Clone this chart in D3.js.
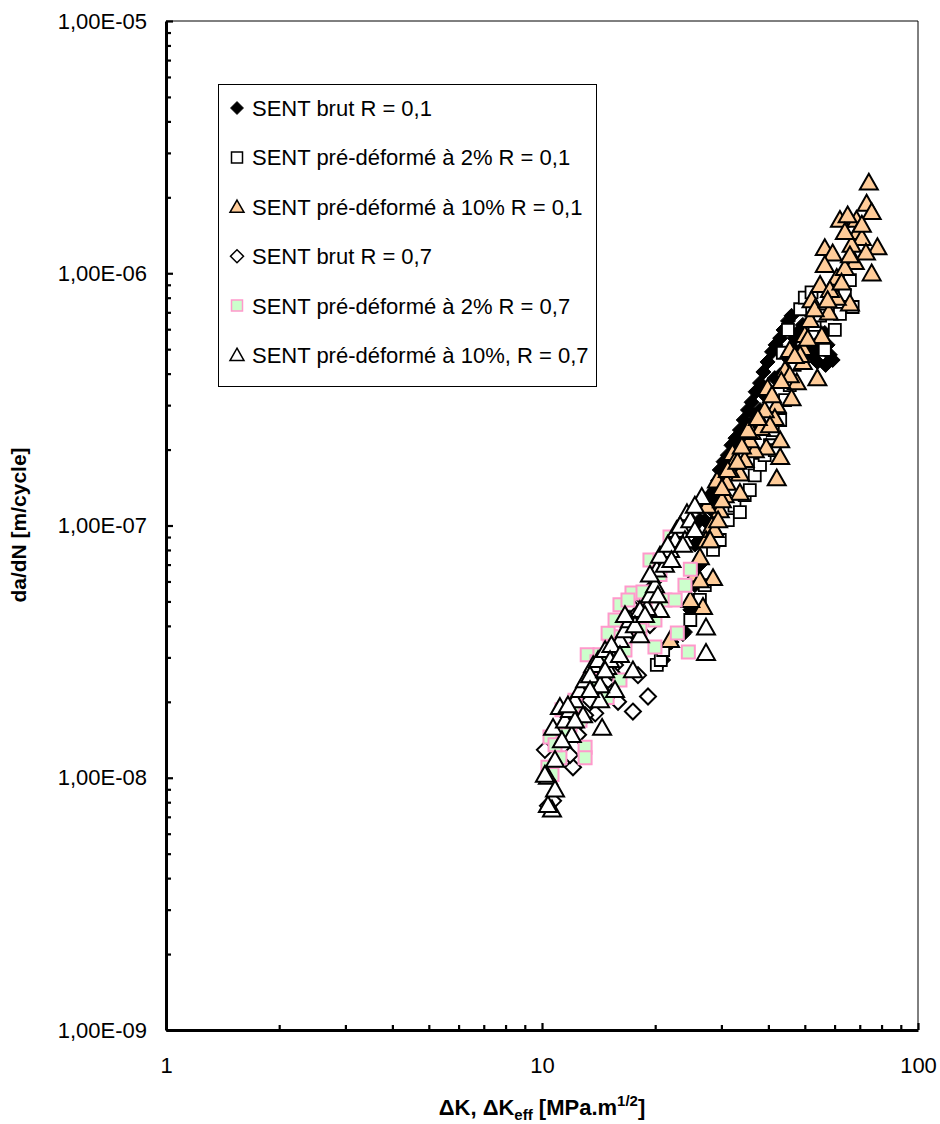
<!DOCTYPE html>
<html><head><meta charset="utf-8">
<script src="https://cdn.jsdelivr.net/npm/d3@7"></script>
<style>
html,body{margin:0;padding:0;background:#fff;}
svg{display:block;font-family:Arial,"Liberation Sans",sans-serif;}
</style></head>
<body>
<svg id="chart" width="940" height="1124"></svg>
<script>
// ---- data: [ΔK (MPa.m^1/2), da/dN (m/cycle)] ----
const brutR01 = [[21.2,3.27e-8],[22.1,3.45e-8],[23.7,3.71e-8],[24.8,4.63e-8],[25.5,5.8e-8],[26.3,7.0e-8],[26.3,8.76e-8],[27.1,1.05e-7],[27.6,1.2e-7],[28.3,1.28e-7],[28.8,1.38e-7],[29.4,1.51e-7],[29.7,1.66e-7],[30.4,1.79e-7],[31.2,1.9e-7],[31.9,2.08e-7],[32.7,2.22e-7],[33.6,2.39e-7],[34.4,2.62e-7],[35.3,2.87e-7],[36.1,3.08e-7],[37.0,3.39e-7],[38.0,3.67e-7],[38.8,4.06e-7],[39.8,4.45e-7],[40.9,4.88e-7],[41.8,5.2e-7],[43.0,5.53e-7],[43.9,5.96e-7],[45.1,6.47e-7],[46.1,6.78e-7],[48.6,5.96e-7],[50.0,5.43e-7],[51.6,5.2e-7],[53.1,4.97e-7],[54.9,5.43e-7],[56.5,5.8e-7],[57.5,5.2e-7],[58.3,4.75e-7],[59.3,4.53e-7],[56.8,4.33e-7],[54.0,4.45e-7],[52.1,4.75e-7],[47.0,4.97e-7],[45.6,4.53e-7],[43.0,3.95e-7],[40.4,3.29e-7],[38.0,2.87e-7],[35.7,2.5e-7],[33.6,2.08e-7],[31.6,1.74e-7],[30.1,1.51e-7],[28.3,1.15e-7],[21.0,2.93e-8],[24.0,3.78e-8],[30.6,1.66e-7],[32.5,1.96e-7],[34.6,2.33e-7],[36.8,2.74e-7],[39.1,3.29e-7],[41.6,3.84e-7],[44.3,4.75e-7],[47.0,5.53e-7],[49.4,6.24e-7],[28.0,1.32e-7],[26.3,1.05e-7],[25.5,8.4e-8]];
const pre2R01 = [[20.2,2.8e-8],[20.7,2.93e-8],[21.0,3.21e-8],[24.8,4.22e-8],[26.3,5.07e-8],[27.1,5.8e-8],[28.5,8.0e-8],[29.7,8.76e-8],[31.2,1.05e-7],[32.5,1.2e-7],[33.6,1.13e-7],[34.6,1.32e-7],[35.7,1.38e-7],[36.8,1.58e-7],[38.0,1.74e-7],[39.1,1.9e-7],[40.4,2.08e-7],[41.1,2.39e-7],[41.6,1.99e-7],[43.0,2.62e-7],[43.7,4.84e-7],[44.3,3.14e-7],[45.1,5.96e-7],[45.6,3.6e-7],[47.0,4.33e-7],[48.6,7.2e-7],[50.0,8.0e-7],[52.1,8.4e-7],[53.1,6.24e-7],[54.9,6.8e-7],[58.3,7.83e-7],[62.0,6.9e-7],[63.9,8.2e-7],[65.9,9.4e-7],[67.0,7.35e-7],[60.1,5.96e-7],[56.5,4.97e-7]];
const pre10R01 = [[74.0,2.29e-6],[73.0,1.89e-6],[62.0,1.63e-6],[68.6,1.63e-6],[69.1,1.46e-6],[78.0,1.27e-6],[56.5,1.26e-6],[59.3,1.2e-6],[67.9,1.11e-6],[56.5,1.08e-6],[75.3,1.0e-6],[60.8,9.6e-7],[65.9,7.6e-7],[60.8,8.0e-7],[57.9,7.0e-7],[50.0,5.7e-7],[55.5,5.65e-7],[49.4,5.06e-7],[49.4,4.45e-7],[54.0,3.84e-7],[46.1,3.2e-7],[42.1,3.0e-7],[39.8,3.51e-7],[41.6,2.67e-7],[43.0,2.18e-7],[39.5,2.04e-7],[36.8,1.99e-7],[43.0,1.87e-7],[42.1,1.54e-7],[33.6,1.61e-7],[32.1,1.94e-7],[31.0,1.48e-7],[29.2,1.51e-7],[33.6,1.35e-7],[47.6,3.7e-7],[65.0,1.7e-6],[70.9,1.38e-6],[72.7,1.21e-6],[63.9,1.05e-6],[54.9,9.0e-7],[52.1,7.83e-7],[45.6,4.97e-7],[44.3,4.14e-7],[38.0,2.62e-7],[35.7,2.18e-7],[34.6,1.82e-7],[30.6,1.32e-7],[29.7,1.15e-7],[28.3,1.0e-7],[27.3,8.76e-8],[26.3,7.5e-8],[25.5,6.4e-8],[26.8,4.76e-8],[28.5,6.2e-8],[21.9,3.52e-8],[24.8,5.07e-8],[27.5,1.2e-7],[31.6,1.66e-7],[39.1,2.87e-7],[51.6,6.53e-7],[75.3,1.75e-6],[66.6,1.3e-6],[32.5,1.79e-7],[36.1,2.35e-7],[38.2,2.44e-7],[40.4,2.5e-7],[45.6,3.95e-7],[48.6,4.75e-7],[28.8,9.6e-8],[30.1,1.26e-7],[63.9,1.46e-6],[58.3,8.6e-7],[30.1,1.41e-7],[31.2,1.66e-7],[33.1,1.79e-7],[34.0,2.06e-7],[35.3,2.39e-7],[37.5,2.67e-7],[40.9,3.29e-7],[43.3,3.74e-7],[47.0,4.7e-7],[50.9,5.5e-7],[53.1,7.2e-7],[57.5,7.83e-7],[62.6,9.2e-7],[65.9,1.18e-6],[70.9,1.56e-6],[28.0,8.76e-8],[29.4,1.05e-7],[26.3,6.08e-8]];
const brutR07 = [[10.37,7.75e-9],[10.7,8.1e-9],[10.18,1.29e-8],[12.09,1.1e-8],[15.93,2.0e-8],[17.45,1.83e-8],[19.14,2.1e-8],[18.0,2.55e-8],[12.62,1.67e-8],[11.87,1.23e-8],[17.14,4.85e-8],[13.85,1.8e-8],[11.16,1.41e-8],[11.51,1.55e-8],[13.42,2.03e-8],[14.27,2.23e-8],[14.99,2.44e-8],[15.64,2.8e-8],[16.12,3.21e-8],[18.22,4.42e-8],[18.79,5.07e-8],[19.37,5.55e-8],[19.97,6.08e-8],[16.62,3.52e-8],[13.02,1.77e-8],[14.72,2.13e-8],[11.03,1.18e-8],[15.3,2.62e-8],[12.47,1.48e-8],[19.37,4.03e-8]];
const pre2R07 = [[19.37,7.3e-8],[15.17,3.62e-8],[13.19,3.07e-8],[17.35,5.4e-8],[18.56,5.45e-8],[24.0,5.8e-8],[22.9,3.75e-8],[24.5,3.15e-8],[19.97,3.3e-8],[16.12,2.44e-8],[13.02,1.32e-8],[13.02,1.2e-8],[10.5,1.45e-8],[11.3,1.86e-8],[10.37,1.1e-8],[11.16,1.2e-8],[12.62,1.69e-8],[14.0,2.88e-8],[15.45,3.61e-8],[16.8,4.14e-8],[14.9,2.08e-8],[14.99,3.74e-8],[21.9,9.0e-8],[23.3,8.76e-8],[20.6,6.4e-8],[18.79,4.63e-8],[17.67,4.22e-8],[16.62,3.21e-8],[14.27,2.67e-8],[13.85,2.23e-8],[12.24,2.03e-8],[11.87,1.62e-8],[10.83,1.35e-8],[10.63,1.03e-8],[18.22,3.85e-8],[21.23,5.07e-8],[24.8,6.7e-8],[22.6,5.07e-8],[19.97,4.22e-8],[13.42,2.44e-8],[16.12,4.85e-8],[14.27,3.07e-8],[11.51,1.48e-8],[16.93,5.07e-8],[15.64,4.22e-8],[12.09,1.94e-8],[20.6,7.3e-8]];
const pre10R07 = [[11.16,1.91e-8],[10.7,1.58e-8],[10.37,1.01e-8],[10.63,7.5e-9],[14.45,1.58e-8],[13.68,2.8e-8],[14.9,2.75e-8],[17.45,2.67e-8],[16.12,3.52e-8],[20.6,4.63e-8],[19.02,4.72e-8],[20.2,6.7e-8],[22.8,9.6e-8],[24.3,1.12e-7],[26.6,1.3e-7],[27.3,3.95e-8],[27.3,3.13e-8],[10.37,7.8e-9],[10.83,9.0e-9],[11.51,1.69e-8],[11.87,1.86e-8],[12.24,2.03e-8],[12.62,2.23e-8],[13.02,2.44e-8],[13.42,2.55e-8],[14.1,2.93e-8],[14.72,3.21e-8],[15.3,3.36e-8],[16.62,3.85e-8],[17.14,4.22e-8],[18.22,4.63e-8],[19.37,5.3e-8],[19.97,5.8e-8],[21.23,7.0e-8],[21.9,8.0e-8],[22.6,8.76e-8],[23.3,1.0e-7],[24.8,1.05e-7],[25.5,1.2e-7],[10.18,1.03e-8],[12.0,1.48e-8],[12.86,1.77e-8],[14.27,2.03e-8],[15.64,2.23e-8],[18.22,3.68e-8],[19.37,6.4e-8],[20.6,7.6e-8],[21.6,8.4e-8],[24.0,8.76e-8],[25.5,9.6e-8],[10.83,1.18e-8],[15.17,2.93e-8],[14.27,2.33e-8],[12.24,1.69e-8],[13.42,2.23e-8],[14.72,2.67e-8],[16.12,3.07e-8],[17.67,4.03e-8],[18.79,4.42e-8],[20.34,5.3e-8],[22.1,7.3e-8],[23.7,8.4e-8],[11.3,1.41e-8],[11.72,1.94e-8],[16.62,4.42e-8]];

const seriesNames = ["SENT brut R = 0,1","SENT pré-déformé à 2% R = 0,1","SENT pré-déformé à 10% R = 0,1","SENT brut R = 0,7","SENT pré-déformé à 2% R = 0,7","SENT pré-déformé à 10%, R = 0,7"];
const seriesData = [brutR01, pre2R01, pre10R01, brutR07, pre2R07, pre10R07];
const xTickValues = [1, 10, 100];
const yTickValues = [1e-9, 1e-8, 1e-7, 1e-6, 1e-5];
const yTickLabels = ["1,00E-09","1,00E-08","1,00E-07","1,00E-06","1,00E-05"];

// ---- styles ----
const FONT = "Arial, 'Liberation Sans', sans-serif";
const styles = [
  {shape:"diamond", size:15, fill:"#000", stroke:"#000", sw:1},
  {shape:"square", size:12, fill:"#fff", stroke:"#000", sw:1.8},
  {shape:"triangle", size:18, fill:"#FFCC99", stroke:"#000", sw:2},
  {shape:"diamond", size:16, fill:"#fff", stroke:"#000", sw:2},
  {shape:"square", size:13, fill:"#CCFFCC", stroke:"#FF99CC", sw:2},
  {shape:"triangle", size:18, fill:"#fff", stroke:"#000", sw:2}
];
function shapePath(shape, s){
  const h = s/2;
  if(shape==="diamond") return `M0,${-h}L${h},0L0,${h}L${-h},0Z`;
  if(shape==="square") return `M${-h},${-h}H${h}V${h}H${-h}Z`;
  const th = s*0.88;
  return `M0,${-th*0.55}L${h},${th*0.45}L${-h},${th*0.45}Z`;
}

const svg = d3.select("#chart");
const L = 166, R = 918, T = 21, B = 1030;
const x = d3.scaleLog().domain([1,100]).range([L,R]);
const y = d3.scaleLog().domain([1e-9,1e-5]).range([B,T]);

// frame (thin top/right)
svg.append("path").attr("d",`M${L},${T}H${R}V${B}`).attr("fill","none").attr("stroke","#000").attr("stroke-width",1);

// minor ticks
const xMinor = [], yMinor = [];
for(let d=1; d<100; d*=10) for(let k=2;k<=9;k++) xMinor.push(d*k);
for(let e=-9; e<-5; e++) for(let k=2;k<=9;k++) yMinor.push(k*Math.pow(10,e));

const gx = svg.append("g").attr("transform",`translate(0,${B})`);
gx.call(d3.axisBottom(x).tickValues(xMinor).tickSize(-5).tickSizeOuter(0).tickFormat(""));
gx.select(".domain").remove();
const gx2 = svg.append("g").attr("transform",`translate(0,${B})`);
gx2.call(d3.axisBottom(x).tickValues(xTickValues).tickSize(-7).tickSizeOuter(0).tickPadding(27).tickFormat(d=>String(d)));

const gy = svg.append("g").attr("transform",`translate(${L},0)`);
gy.call(d3.axisLeft(y).tickValues(yMinor).tickSize(-5).tickSizeOuter(0).tickFormat(""));
gy.select(".domain").remove();
const gy2 = svg.append("g").attr("transform",`translate(${L},0)`);
gy2.call(d3.axisLeft(y).tickValues(yTickValues).tickSize(-7).tickSizeOuter(0).tickPadding(19).tickFormat((d,i)=>yTickLabels[i]));

svg.selectAll(".tick line").attr("stroke","#000").attr("stroke-width",2.2);
svg.selectAll(".domain").attr("stroke","#000").attr("stroke-width",3);
svg.selectAll(".tick text").attr("font-size",22).attr("fill","#000").attr("font-family",FONT);

// points
seriesData.forEach((data,i)=>{
  const st = styles[i];
  svg.append("g").selectAll("path").data(data).join("path")
    .attr("d", shapePath(st.shape, st.size))
    .attr("transform", d=>`translate(${x(d[0])},${y(d[1])})`)
    .attr("fill", st.fill).attr("stroke", st.stroke).attr("stroke-width", st.sw)
    .attr("stroke-linejoin","miter");
});

// legend
const lg = svg.append("g");
lg.append("rect").attr("x",218.5).attr("y",84.5).attr("width",378).attr("height",302)
  .attr("fill","#fff").attr("stroke","#000").attr("stroke-width",1);
seriesNames.forEach((name,i)=>{
  const cy = 108 + i*49.4;
  const st = styles[i];
  const ls = st.shape==="triangle" ? 14 : (st.shape==="diamond" ? 13 : 11);
  lg.append("path").attr("d", shapePath(st.shape, ls))
    .attr("transform",`translate(237,${cy})`)
    .attr("fill", st.fill).attr("stroke", st.stroke).attr("stroke-width", i===0?0.8:1.5);
  lg.append("text").attr("x",252).attr("y",cy+8)
    .attr("font-size",22).attr("font-family",FONT).attr("fill","#000").text(name);
});

// axis titles
svg.append("text").attr("transform",`translate(26,525) rotate(-90)`).attr("text-anchor","middle")
  .attr("font-size",21).attr("font-weight","bold").attr("font-family",FONT).text("da/dN [m/cycle]");
const xt = svg.append("text").attr("x",542).attr("y",1115).attr("text-anchor","middle")
  .attr("font-size",22).attr("font-weight","bold").attr("font-family",FONT);
xt.append("tspan").text("ΔK, ΔK");
xt.append("tspan").attr("font-size",15).attr("dy",5).text("eff");
xt.append("tspan").attr("dy",-5).text(" [MPa.m");
xt.append("tspan").attr("font-size",15).attr("dy",-9).text("1/2");
xt.append("tspan").attr("dy",9).text("]");
</script>
</body></html>
